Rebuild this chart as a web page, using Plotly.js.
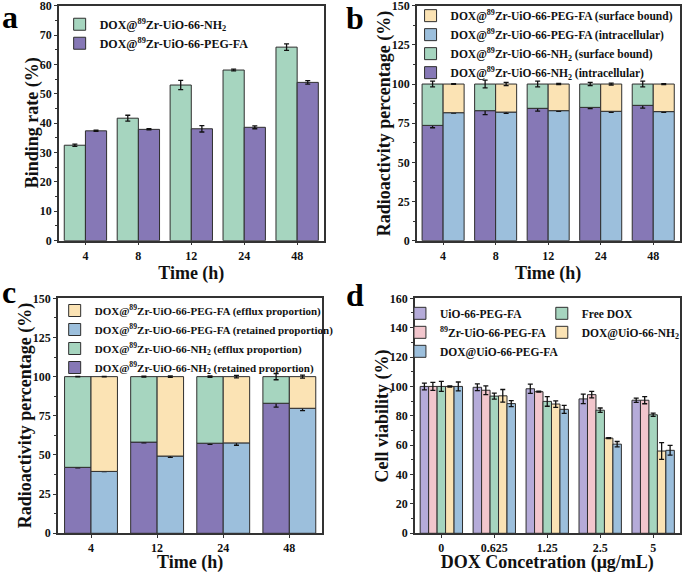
<!DOCTYPE html>
<html>
<head>
<meta charset="utf-8">
<script src="https://cdn.plot.ly/plotly-3.0.1.min.js"></script>
<style>html,body{margin:0;padding:0;background:#fff;}#chart{width:685px;height:573px;}</style>
</head>
<body>
<div id="chart"></div>
<script>
// ---------- Panel a ----------
const timesA = ['4', '8', '12', '24', '48'];
const bindNH2 = [32.5, 41.7, 53.0, 58.1, 65.9];
const bindNH2Err = [0.4, 1.0, 1.6, 0.3, 1.1];
const bindPEG = [37.4, 37.9, 38.1, 38.6, 53.9];
const bindPEGErr = [0.2, 0.2, 1.1, 0.5, 0.6];

// ---------- Panel b ----------
const timesB = ['4', '8', '12', '24', '48'];
const nh2Intra = [73.6, 83.0, 84.5, 85.1, 86.4];
const nh2IntraErr = [1.5, 2.5, 1.8, 0.8, 1.8];
const nh2Surf = [26.4, 17.0, 15.5, 14.9, 13.6];
const nh2SurfErr = [1.8, 2.5, 1.8, 1.0, 1.8];
const pegIntra = [81.7, 82.1, 83.0, 82.6, 82.4];
const pegIntraErr = [0.3, 0.8, 0.4, 0.6, 0.4];
const pegSurf = [18.3, 17.9, 17.0, 17.4, 17.6];
const pegSurfErr = [0.2, 1.0, 0.4, 0.6, 0.3];

// ---------- Panel c ----------
const timesC = ['4', '12', '24', '48'];
const nh2Ret = [42.1, 58.2, 57.5, 83.0];
const nh2RetErr = [0.3, 0.5, 0.8, 2.5];
const nh2Eff = [57.9, 41.8, 42.5, 17.0];
const nh2EffErr = [0.2, 0.3, 0.4, 2.0];
const pegRet = [39.5, 49.3, 57.7, 79.8];
const pegRetErr = [0.2, 0.8, 1.5, 1.5];
const pegEff = [60.5, 50.7, 42.3, 20.2];
const pegEffErr = [0.1, 0.5, 0.8, 1.0];

// ---------- Panel d ----------
const concs = ['0', '0.625', '1.25', '2.5', '5'];
const vUio = [100, 99.4, 98.4, 91.5, 90.6];
const vUioErr = [2.3, 2.3, 3.1, 3.2, 1.4];
const vZr = [100, 97.4, 96.4, 94.4, 90.6];
const vZrErr = [2.7, 3.0, 0.3, 2.2, 2.4];
const vFree = [100, 93.4, 89.8, 83.8, 80.7];
const vFreeErr = [3.4, 2.0, 3.3, 1.5, 1.1];
const vDoxNH2 = [100, 93.6, 88.0, 64.8, 56.0];
const vDoxNH2Err = [0.4, 4.3, 2.2, 0.4, 5.7];
const vDoxPEG = [100, 88.3, 84.4, 60.7, 56.5];
const vDoxPEGErr = [3.0, 2.0, 2.7, 1.8, 3.3];

const C = {
  green: '#a6d5bf', purple: '#8678b6', yellow: '#fbe3b4',
  blue: '#9cbfdc', pink: '#f2c6cd', lav: '#b5abd9'
};
const SERIF = '"Liberation Serif", "Times New Roman", serif';
const outline = {color: '#2e2e2e', width: 1};

function eb(arr) {
  return {type: 'data', array: arr, visible: true, color: '#111', thickness: 1.3, width: 2.5};
}
function bar(x, y, err, name, color, xa, ya, legend, extra) {
  return Object.assign({
    type: 'bar', x: x, y: y, name: name, error_y: eb(err),
    marker: {color: color, line: outline},
    xaxis: xa, yaxis: ya, legend: legend
  }, extra || {});
}

const NH2 = 'DOX@<sup>89</sup>Zr-UiO-66-NH<sub>2</sub>';
const PEG = 'DOX@<sup>89</sup>Zr-UiO-66-PEG-FA';

const data = [
  // a
  bar(timesA, bindNH2, bindNH2Err, NH2, C.green, 'x', 'y', 'legend'),
  bar(timesA, bindPEG, bindPEGErr, PEG, C.purple, 'x', 'y', 'legend'),
  // b
  bar(timesB, nh2Intra, nh2IntraErr, NH2 + ' (intracellular)', C.purple, 'x2', 'y2', 'legend2', {offsetgroup: 'bn'}),
  bar(timesB, nh2Surf, nh2SurfErr, NH2 + ' (surface bound)', C.green, 'x2', 'y2', 'legend2', {offsetgroup: 'bn', base: nh2Intra}),
  bar(timesB, pegIntra, pegIntraErr, PEG + ' (intracellular)', C.blue, 'x2', 'y2', 'legend2', {offsetgroup: 'bp'}),
  bar(timesB, pegSurf, pegSurfErr, PEG + ' (surface bound)', C.yellow, 'x2', 'y2', 'legend2', {offsetgroup: 'bp', base: pegIntra}),
  // c
  bar(timesC, nh2Ret, nh2RetErr, NH2 + ' (retained proportion)', C.purple, 'x3', 'y3', 'legend3', {offsetgroup: 'cn'}),
  bar(timesC, nh2Eff, nh2EffErr, NH2 + ' (efflux proportion)', C.green, 'x3', 'y3', 'legend3', {offsetgroup: 'cn', base: nh2Ret}),
  bar(timesC, pegRet, pegRetErr, PEG + ' (retained proportion)', C.blue, 'x3', 'y3', 'legend3', {offsetgroup: 'cp'}),
  bar(timesC, pegEff, pegEffErr, PEG + ' (efflux proportion)', C.yellow, 'x3', 'y3', 'legend3', {offsetgroup: 'cp', base: pegRet}),
  // d
  bar(concs, vUio, vUioErr, 'UiO-66-PEG-FA', C.lav, 'x4', 'y4', 'legend4'),
  bar(concs, vZr, vZrErr, '<sup>89</sup>Zr-UiO-66-PEG-FA', C.pink, 'x4', 'y4', 'legend4'),
  bar(concs, vFree, vFreeErr, 'Free DOX', C.green, 'x4', 'y4', 'legend5'),
  bar(concs, vDoxNH2, vDoxNH2Err, 'DOX@UiO-66-NH<sub>2</sub>', C.yellow, 'x4', 'y4', 'legend5'),
  bar(concs, vDoxPEG, vDoxPEGErr, 'DOX@UiO-66-PEG-FA', C.blue, 'x4', 'y4', 'legend4')
];

const tickFont = {family: SERIF, size: 12, color: '#111', weight: 'bold'};
const titleFont = {family: SERIF, size: 18, color: '#111', weight: 'bold'};

function xax(domain, anchor, title) {
  return {
    domain: domain, anchor: anchor, type: 'category',
    showline: true, linecolor: '#333', linewidth: 1.5, mirror: true,
    ticks: 'outside', ticklen: 3, tickwidth: 1.2, tickcolor: '#333',
    showgrid: false, zeroline: false, tickfont: tickFont, fixedrange: true,
    title: {text: title, font: titleFont, standoff: 1}
  };
}
function yax(domain, anchor, range, dtick) {
  return {
    domain: domain, anchor: anchor, range: range, dtick: dtick,
    showline: true, linecolor: '#333', linewidth: 1.5, mirror: true,
    ticks: 'outside', ticklen: 3, tickwidth: 1.2, tickcolor: '#333',
    minor: {ticks: 'outside', ticklen: 2, dtick: dtick / 2, tickcolor: '#333'},
    showgrid: false, zeroline: false, tickfont: tickFont, fixedrange: true,
    ticklabeloverflow: 'allow'
  };
}
const legBase = {bgcolor: 'rgba(255,255,255,0)', borderwidth: 0, xanchor: 'left', yanchor: 'top'};
const legFont = s => ({family: SERIF, size: s, color: '#111', weight: 'bold'});

const yTop = [0.580, 0.990], yBot = [0.0693, 0.4794];

function panelLabel(t, x, y) {
  return {text: t, x: x, y: y, xref: 'paper', yref: 'paper', xanchor: 'left', yanchor: 'top',
    showarrow: false, font: {family: SERIF, size: 32, color: '#000', weight: 'bold'}};
}
function yTitle(t, x, y) {
  return {text: t, x: x, y: y, xref: 'paper', yref: 'paper', xanchor: 'center', yanchor: 'middle',
    textangle: -90, showarrow: false, font: titleFont};
}

const layout = {
  width: 685, height: 573,
  margin: {l: 0, r: 0, t: 0, b: 0},
  paper_bgcolor: '#fff', plot_bgcolor: '#fff',
  barmode: 'group', bargap: 0.2, bargroupgap: 0,
  showlegend: true,
  xaxis: xax([0.0866, 0.4752], 'y', 'Time (h)'),
  yaxis: yax(yTop, 'x', [0, 80], 10),
  xaxis2: xax([0.6121, 0.9978], 'y2', 'Time (h)'),
  yaxis2: yax(yTop, 'x2', [0, 150], 25),
  xaxis3: xax([0.0851, 0.4734], 'y3', 'Time (h)'),
  yaxis3: yax(yBot, 'x3', [0, 150], 25),
  xaxis4: xax([0.6092, 0.998], 'y4', 'DOX Concetration (μg/mL)'),
  yaxis4: yax(yBot, 'x4', [0, 160], 20),
  legend: Object.assign({}, legBase, {x: 0.0876, y: 0.983, font: legFont(12)}),
  legend2: Object.assign({}, legBase, {x: 0.6029, y: 0.998, font: legFont(11.5), traceorder: 'reversed'}),
  legend3: Object.assign({}, legBase, {x: 0.0803, y: 0.4834, font: legFont(11), traceorder: 'reversed'}),
  legend4: Object.assign({}, legBase, {x: 0.5873, y: 0.4785, font: legFont(11.5)}),
  legend5: Object.assign({}, legBase, {x: 0.7956, y: 0.4785, font: legFont(11.5)}),
  annotations: [
    panelLabel('a', 0.0, 1.005),
    panelLabel('b', 0.505, 1.003),
    panelLabel('c', 0.0, 0.525),
    panelLabel('d', 0.505, 0.52),
    yTitle('Binding rate (%)', 0.0470, 0.785),
    yTitle('Radioactivity percentage (%)', 0.5640, 0.785),
    yTitle('Radioactivity percentage (%)', 0.0375, 0.2744),
    yTitle('Cell viability (%)', 0.5620, 0.2744)
  ]
};

Plotly.newPlot('chart', data, layout, {displayModeBar: false, responsive: false});
</script>
</body>
</html>
